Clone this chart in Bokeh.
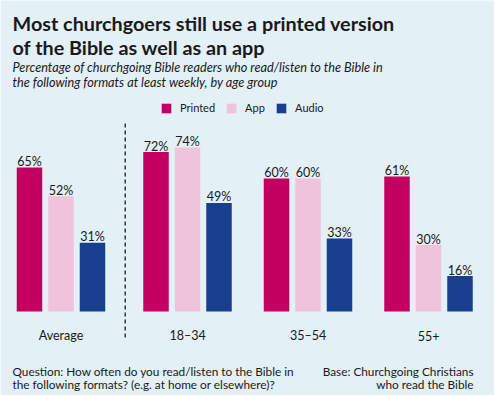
from bokeh.plotting import figure
from bokeh.models import Range1d, Label, Legend, LegendItem, ColumnDataSource
from bokeh.core.properties import value
from bokeh.embed import file_html
from bokeh.resources import INLINE

# ---- data ----
groups = ["Average", "18–34", "35–54", "55+"]
series = ["Printed", "App", "Audio"]
printed = [65, 72, 60, 61]
app = [52, 74, 60, 30]
audio = [31, 49, 33, 16]
colors = ["#c30060", "#f0c3dd", "#173f8d"]

title_lines = ["Most churchgoers still use a printed version", "of the Bible as well as an app"]
subtitle_lines = ["Percentage of churchgoing Bible readers who read/listen to the Bible in",
                  "the following formats at least weekly, by age group"]
note_left = ["Question: How often do you read/listen to the Bible in",
             "the following formats? (e.g. at home or elsewhere)?"]
note_right = ["Base: Churchgoing Christians", "who read the Bible"]

BG = "#e3f0f6"
TXT = "#1a1a1a"
FONT = "Lato"

W, H = 494, 395
p = figure(width=W, height=H, output_backend="svg", toolbar_location=None,
           x_range=Range1d(-0.5519, 3.5477), y_range=Range1d(-37.92, 140.41),
           x_axis_type=None, y_axis_type=None, min_border=0)
p.background_fill_color = BG
p.border_fill_color = BG
p.outline_line_color = None
p.grid.visible = False

# group positions (the "Average" group sits slightly apart)
gx = [i - (0.05 if i == 0 else 0.0) for i in range(len(groups))]
step = 0.2614
bw = 0.2116

renderers = []
for si, (name, vals) in enumerate(zip(series, [printed, app, audio])):
    xs = [g + (si - 1) * step for g in gx]
    src = ColumnDataSource(dict(x=xs, top=vals, lab=[f"{v}%" for v in vals]))
    r = p.vbar(x="x", top="top", width=bw, bottom=0, source=src,
               fill_color=colors[si], line_color=None)
    renderers.append(r)
    p.text(x="x", y="top", text="lab", source=src, text_align="center",
           text_baseline="alphabetic", y_offset=-6, text_font=value(FONT),
           text_font_size="12.5px", text_color=TXT)

# category labels
csrc = ColumnDataSource(dict(x=gx, y=[0] * len(groups), t=groups))
p.text(x="x", y="y", text="t", source=csrc, text_align="center",
       text_baseline="alphabetic", y_offset=24, text_font=value(FONT),
       text_font_size="12.5px", text_color=TXT)

# dashed separator between Average and age groups
sep_x = (gx[0] + gx[1]) / 2 + 0.008
p.segment(x0=[sep_x], x1=[sep_x], y0=[-11.7], y1=[85.3], line_color=TXT,
          line_width=1.3, line_dash="4 3")

# legend
legend = Legend(items=[LegendItem(label=s, renderers=[r]) for s, r in zip(series, renderers)],
                orientation="horizontal", location=(160, 281),
                glyph_width=12, glyph_height=12, label_height=12,
                label_text_font=FONT, label_text_font_size="11px", label_text_color=TXT,
                label_standoff=8, spacing=10, padding=0, margin=0,
                background_fill_alpha=0, border_line_alpha=0)
p.add_layout(legend, "center")

# title, subtitle, notes
def add(text, x, y, size, style="normal", align="left"):
    p.add_layout(Label(x=x, y=y, x_units="screen", y_units="screen", text=text,
                       text_font=FONT, text_font_size=size, text_font_style=style,
                       text_color=TXT, text_align=align, text_baseline="alphabetic"))

add(title_lines[0], 12, 373, "19.8px", "bold")
add(title_lines[1], 12, 349, "19.8px", "bold")
add(subtitle_lines[0], 12, 329, "12.7px", "italic")
add(subtitle_lines[1], 12, 314, "12.7px", "italic")
add(note_left[0], 12, 24, "11.8px")
add(note_left[1], 12, 11, "11.8px")
add(note_right[0], 473, 24, "11.8px", align="right")
add(note_right[1], 473, 11, "11.8px", align="right")

open("out.html", "w").write(file_html(p, INLINE))
